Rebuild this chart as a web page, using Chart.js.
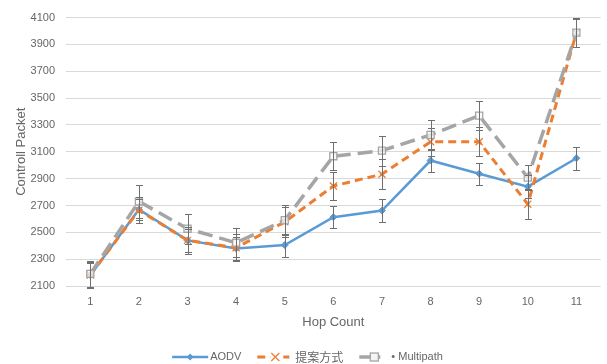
<!DOCTYPE html>
<html>
<head>
<meta charset="utf-8">
<script src="https://cdn.jsdelivr.net/npm/chart.js@4.4.0/dist/chart.umd.min.js"></script>
<style>
html,body{margin:0;padding:0;background:#fff;}
#wrap{width:607px;height:364px;}
</style>
</head>
<body>
<div id="wrap"><canvas id="c" width="607" height="364"></canvas></div>
<script>
const categories = ['1','2','3','4','5','6','7','8','9','10','11'];
const yTicks = [2100,2300,2500,2700,2900,3100,3300,3500,3700,3900,4100];
const seriesNames = ['AODV','提案方式','• Multipath'];
const aodv      = [2180, 2670, 2440, 2380, 2405, 2613, 2662, 3035, 2937, 2840, 3052];
const aodvErr   = [90, 80, 85, 85, 86, 83, 85, 85, 83, 86, 85];
const proposed  = [2182, 2665, 2440, 2385, 2578, 2845, 2933, 3175, 3175, 2710, 3988];
const proposedErr = [100, 95, 100, 100, 110, 107, 110, 105, 110, 110, 105];
const multipath = [2190, 2730, 2527, 2422, 2590, 3067, 3109, 3226, 3370, 2908, 3988];
const multipathErr = [100, 122, 112, 107, 110, 103, 112, 110, 105, 92, 107];

const BLUE = '#5B9BD5', ORANGE = '#ED7D31', GRAY = '#A5A5A5';

const errorBars = {
  id: 'errorBars',
  afterDatasetsDraw(chart) {
    const ctx = chart.ctx;
    const ys = chart.scales.y;
    const errs = [aodvErr, proposedErr, multipathErr];
    ctx.save();
    ctx.strokeStyle = '#6f6f6f';
    ctx.lineWidth = 1;
    chart.data.datasets.forEach((ds, i) => {
      const meta = chart.getDatasetMeta(i);
      meta.data.forEach((pt, j) => {
        const v = ds.data[j], e = errs[i][j];
        const x = Math.round(pt.x) + 0.5;
        const y1 = Math.round(ys.getPixelForValue(v + e)) + 0.5;
        const y2 = Math.round(ys.getPixelForValue(v - e)) + 0.5;
        ctx.beginPath();
        ctx.moveTo(x, y1); ctx.lineTo(x, y2);
        ctx.moveTo(x - 3.5, y1); ctx.lineTo(x + 3.5, y1);
        ctx.moveTo(x - 3.5, y2); ctx.lineTo(x + 3.5, y2);
        ctx.stroke();
      });
    });
    ctx.restore();
  }
};

const customLegend = {
  id: 'customLegend',
  afterDraw(chart) {
    const ctx = chart.ctx;
    const y = 357;
    const items = [
      {name: seriesNames[0], color: BLUE, dash: [], lw: 2.5, lineLen: 36, mOff: 18, gapText: 2, marker: 'diamond', font: '11px "Liberation Sans", Arial, sans-serif'},
      {name: seriesNames[1], color: ORANGE, dash: [8,5], lw: 3, lineLen: 32, mOff: 18, gapText: 6, marker: 'x', font: '12px "Noto Sans CJK JP", sans-serif'},
      {name: seriesNames[2], color: GRAY, dash: [], lw: 3.5, lineLen: 21, mOff: 15, gapText: 11, marker: 'square', font: '11px "Liberation Sans", Arial, sans-serif'}
    ];
    const gapItem = 16;
    ctx.save();
    let total = 0;
    items.forEach(it => {
      ctx.font = it.font;
      it.tw = ctx.measureText(it.name).width;
      it.w = it.lineLen + it.gapText + it.tw;
      total += it.w;
    });
    total += gapItem * (items.length - 1);
    let x = (chart.width - total) / 2 + 4;
    items.forEach(it => {
      ctx.strokeStyle = it.color;
      ctx.lineWidth = it.lw;
      ctx.setLineDash(it.dash);
      ctx.beginPath();
      ctx.moveTo(x, y); ctx.lineTo(x + it.lineLen, y);
      ctx.stroke();
      ctx.setLineDash([]);
      const mx = x + it.mOff;
      if (it.marker === 'diamond') {
        ctx.fillStyle = it.color;
        ctx.beginPath();
        ctx.moveTo(mx, y - 3.5); ctx.lineTo(mx + 3.5, y); ctx.lineTo(mx, y + 3.5); ctx.lineTo(mx - 3.5, y);
        ctx.closePath(); ctx.fill();
      } else if (it.marker === 'x') {
        ctx.fillStyle = '#fff';
        ctx.fillRect(mx - 5, y - 5, 10, 10);
        ctx.lineWidth = 1.3;
        ctx.beginPath();
        ctx.moveTo(mx - 4, y - 4); ctx.lineTo(mx + 4, y + 4);
        ctx.moveTo(mx + 4, y - 4); ctx.lineTo(mx - 4, y + 4);
        ctx.stroke();
      } else {
        ctx.fillStyle = '#f4f4f4';
        ctx.lineWidth = 1.3;
        ctx.fillRect(mx - 4, y - 4, 8, 8);
        ctx.strokeRect(mx - 4, y - 4, 8, 8);
      }
      ctx.font = it.font;
      ctx.fillStyle = '#666';
      ctx.textBaseline = 'middle';
      ctx.textAlign = 'left';
      ctx.fillText(it.name, x + it.lineLen + it.gapText, y);
      x += it.w + gapItem;
    });
    ctx.restore();
  }
};

new Chart(document.getElementById('c'), {
  type: 'line',
  data: {
    labels: categories,
    datasets: [
      {label: seriesNames[0], data: aodv, borderColor: BLUE, backgroundColor: BLUE, borderWidth: 2.5,
       pointStyle: 'rectRot', pointRadius: 3.5, pointBorderWidth: 1, pointBackgroundColor: BLUE, pointBorderColor: BLUE, order: 3},
      {label: seriesNames[1], data: proposed, borderColor: ORANGE, backgroundColor: ORANGE, borderWidth: 3, borderDash: [8,5],
       pointStyle: 'crossRot', pointRadius: 5, pointBorderWidth: 1.3, pointBorderColor: ORANGE, order: 2},
      {label: seriesNames[2], data: multipath, borderColor: GRAY, backgroundColor: GRAY, borderWidth: 3.5, borderDash: [15,7],
       pointStyle: 'rect', pointRadius: 5, pointBorderWidth: 1.3, pointBackgroundColor: 'rgba(250,250,250,0.7)', pointBorderColor: GRAY, order: 1}
    ]
  },
  options: {
    responsive: false,
    animation: false,
    devicePixelRatio: 1,
    layout: {padding: {left: 0, right: 5, top: 13, bottom: 28}},
    plugins: {legend: {display: false}, tooltip: {enabled: false}},
    elements: {line: {tension: 0}},
    scales: {
      x: {
        type: 'category',
        offset: true,
        grid: {display: false, drawTicks: false},
        border: {display: false},
        ticks: {padding: 9, color: '#666', font: {family: '"Liberation Sans", Arial, sans-serif', size: 11}},
        title: {display: true, text: 'Hop Count', color: '#666', padding: {top: 0, bottom: 6},
                font: {family: '"Liberation Sans", Arial, sans-serif', size: 13}},
        afterFit(s) { s.height = 50; }
      },
      y: {
        min: 2100, max: 4100,
        afterBuildTicks(s) { s.ticks = yTicks.map(v => ({value: v})); },
        grid: {color: '#D9D9D9', lineWidth: 1, drawTicks: false},
        border: {display: false},
        ticks: {padding: 11, color: '#666', font: {family: '"Liberation Sans", Arial, sans-serif', size: 11},
                callback: v => String(v)},
        title: {display: true, text: 'Controll Packet', color: '#666', padding: {top: 14, bottom: 0},
                font: {family: '"Liberation Sans", Arial, sans-serif', size: 13}},
        afterFit(s) { s.width = 66; }
      }
    }
  },
  plugins: [errorBars, customLegend]
});
</script>
</body>
</html>
